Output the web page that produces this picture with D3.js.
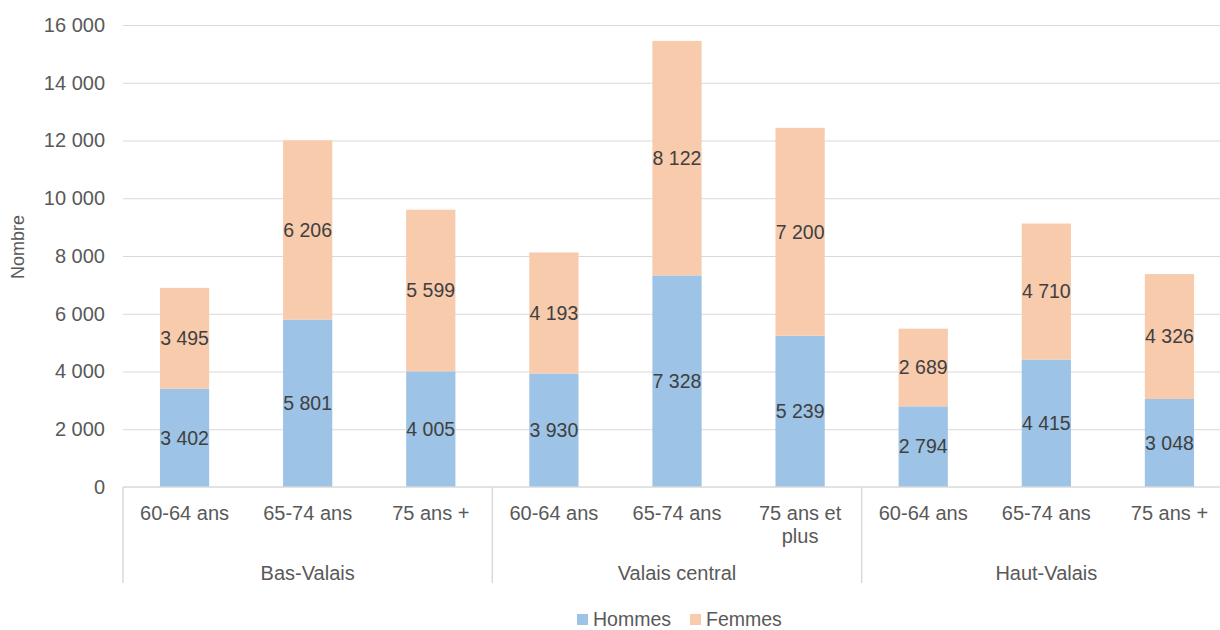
<!DOCTYPE html>
<html>
<head>
<meta charset="utf-8">
<script src="https://cdn.jsdelivr.net/npm/d3@7"></script>
<style>
  body { margin: 0; background: #fff; overflow: hidden; }
  svg { font-family: "Liberation Sans", Arial, sans-serif; display: block; }
</style>
</head>
<body>
<div id="canvas"></div>
<script>
const groups = ["Bas-Valais", "Valais central", "Haut-Valais"];
const ages = [
  ["60-64 ans", "65-74 ans", "75 ans +"],
  ["60-64 ans", "65-74 ans", "75 ans et plus"],
  ["60-64 ans", "65-74 ans", "75 ans +"]
];
const hommes = [3402, 5801, 4005, 3930, 7328, 5239, 2794, 4415, 3048];
const femmes = [3495, 6206, 5599, 4193, 8122, 7200, 2689, 4710, 4326];
const yTicks = [0, 2000, 4000, 6000, 8000, 10000, 12000, 14000, 16000];
const seriesNames = ["Hommes", "Femmes"];
const colors = ["#9dc3e6", "#f8cbad"];

// table of categories built from the arrays above
const data = [];
ages.forEach((list, gi) => list.forEach(a => data.push({ group: groups[gi], age: a })));
data.forEach((d, i) => { d.i = i; d.Hommes = hommes[i]; d.Femmes = femmes[i]; });

const width = 1220, height = 630;
const margin = { top: 25, left: 123, bottom: 143, right: -11 };
const iwidth = width - margin.left - margin.right;
const iheight = height - margin.top - margin.bottom;
const textColor = "#595959";
const fr = d3.formatLocale({ decimal: ",", thousands: " ", grouping: [3], currency: ["", ""] });
const fmt = fr.format(",");

const svg = d3.select("#canvas").append("svg")
  .attr("width", width)
  .attr("height", height);

const g = svg.append("g").attr("transform", `translate(${margin.left},${margin.top})`);

const x = d3.scaleBand()
  .domain(data.map(d => d.i))
  .range([0, iwidth])
  .paddingInner(0.6)
  .paddingOuter(0.3);

const y = d3.scaleLinear()
  .domain([0, 16000])
  .range([iheight, 0]);

// gridlines + y labels
const yAxis = g.append("g")
  .call(d3.axisLeft(y).tickValues(yTicks).tickSize(-iwidth).tickFormat(fmt));
yAxis.select(".domain").remove();
yAxis.selectAll(".tick line").attr("stroke", "#d9d9d9").attr("x1", 0);
yAxis.selectAll(".tick line").filter(d => d === 0).remove();
yAxis.selectAll(".tick text")
  .attr("x", -18)
  .attr("fill", textColor)
  .style("font-size", "20px");

const stack = d3.stack().keys(seriesNames)(data);

const layers = g.selectAll(".layer").data(stack).enter().append("g")
  .attr("class", "layer")
  .attr("fill", (d, i) => colors[i]);

layers.selectAll("rect").data(d => d).enter().append("rect")
  .attr("x", d => x(d.data.i))
  .attr("y", d => y(d[1]))
  .attr("width", x.bandwidth())
  .attr("height", d => y(d[0]) - y(d[1]));

layers.selectAll("text").data(d => d).enter().append("text")
  .attr("x", d => x(d.data.i) + x.bandwidth() / 2)
  .attr("y", d => (y(d[0]) + y(d[1])) / 2)
  .attr("dy", "0.35em")
  .attr("text-anchor", "middle")
  .attr("fill", "#404040")
  .style("font-size", "19.5px")
  .text(d => fmt(d[1] - d[0]));

// x axis line
g.append("line")
  .attr("x1", 0).attr("x2", iwidth)
  .attr("y1", iheight).attr("y2", iheight)
  .attr("stroke", "#d9d9d9").attr("stroke-width", 1.5);

// category labels (wrapped)
const catLabels = g.append("g");
data.forEach(d => {
  const t = catLabels.append("text")
    .attr("x", x(d.i) + x.bandwidth() / 2)
    .attr("y", iheight + 33)
    .attr("text-anchor", "middle")
    .attr("fill", textColor)
    .style("font-size", "20px");
  const words = d.age.split(" ");
  let line = [], lines = [];
  const probe = t.append("tspan");
  words.forEach(w => {
    line.push(w);
    probe.text(line.join(" "));
    if (probe.node().getComputedTextLength() > 105 && line.length > 1) {
      line.pop();
      lines.push(line.join(" "));
      line = [w];
    }
  });
  lines.push(line.join(" "));
  probe.remove();
  lines.forEach((l, k) => {
    t.append("tspan")
      .attr("x", x(d.i) + x.bandwidth() / 2)
      .attr("dy", k === 0 ? 0 : 23)
      .text(l);
  });
});

// group separators and labels
const step = x.step();
let start = 0;
groups.forEach((gr, gi) => {
  const n = ages[gi].length;
  const xa = x(start) - x.paddingInner() * step / 2;
  const xb = x(start + n - 1) + x.bandwidth() + x.paddingInner() * step / 2;
  g.append("line")
    .attr("x1", xa).attr("x2", xa)
    .attr("y1", iheight).attr("y2", iheight + 96)
    .attr("stroke", "#d9d9d9").attr("stroke-width", 1.5);
  g.append("text")
    .attr("x", (xa + xb) / 2)
    .attr("y", iheight + 93)
    .attr("text-anchor", "middle")
    .attr("fill", textColor)
    .style("font-size", "20px")
    .text(gr);
  start += n;
});

// y axis title
svg.append("text")
  .attr("transform", `translate(24,${margin.top + iheight / 2 - 9}) rotate(-90)`)
  .attr("text-anchor", "middle")
  .attr("fill", textColor)
  .style("font-size", "18px")
  .text("Nombre");

// legend
const legend = svg.append("g").attr("transform", "translate(577,619)");
const lx = [0, 113];
seriesNames.forEach((s, i) => {
  const item = legend.append("g").attr("transform", `translate(${lx[i]},0)`);
  item.append("rect").attr("x", 0).attr("y", -5).attr("width", 11).attr("height", 11).attr("fill", colors[i]);
  item.append("text").attr("x", 16).attr("y", 0).attr("dy", "0.35em")
    .attr("fill", textColor).style("font-size", "19.5px").text(s);
});
</script>
</body>
</html>
